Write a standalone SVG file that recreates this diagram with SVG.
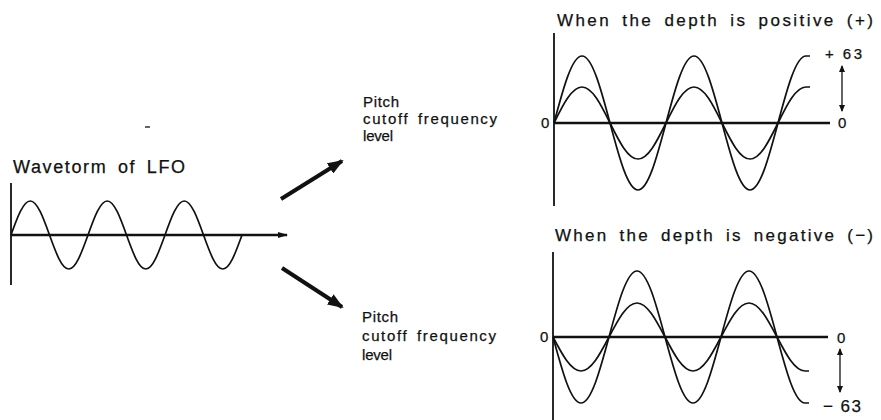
<svg xmlns="http://www.w3.org/2000/svg" width="881" height="420" viewBox="0 0 881 420">
<style>
  text { font-family: "Liberation Sans", Arial, sans-serif; fill: #111; stroke: #111; stroke-width: 0.25; }
  .ttl { font-size: 17px; word-spacing: 4px; }
  .lbl { font-size: 15px; word-spacing: 3px; }
  .num { font-size: 15px; }
  .axis { stroke: #111; stroke-width: 2.6; fill: none; }
  .vaxis { stroke: #111; stroke-width: 1.8; fill: none; }
  .wave { stroke: #111; stroke-width: 1.7; fill: none; }
  .big { stroke: #111; stroke-width: 4; fill: none; }
  .thin { stroke: #111; stroke-width: 1.3; fill: none; }
</style>
<defs>
  <marker id="bighead" markerUnits="userSpaceOnUse" viewBox="0 0 16 12" refX="14" refY="6" markerWidth="16" markerHeight="12" orient="auto">
    <path d="M0,0 L16,6 L0,12 z" fill="#111"/>
  </marker>
  <marker id="smhead" markerUnits="userSpaceOnUse" viewBox="0 0 7 6" refX="6" refY="3" markerWidth="7" markerHeight="6" orient="auto-start-reverse">
    <path d="M0,0 L7,3 L0,6 z" fill="#111"/>
  </marker>
  <marker id="axhead" markerUnits="userSpaceOnUse" viewBox="0 0 10 6" refX="9" refY="3" markerWidth="10" markerHeight="6" orient="auto">
    <path d="M0,0 L10,3 L0,6 z" fill="#111"/>
  </marker>
</defs>
<rect width="881" height="420" fill="#fff"/>

<g id="lfo">
  <text class="ttl" x="13" y="173" textLength="172" lengthAdjust="spacing" style="font-size:18px">Wavetorm of LFO</text>
  <line class="vaxis" x1="11" y1="183" x2="11" y2="285"/>
  <line class="axis" x1="11" y1="235" x2="287" y2="235" marker-end="url(#axhead)"/>
  <path class="wave" d="M11,235 c6.28,-17.42 12.28,-34 19.25,-34 s12.97,16.58 19.25,34 s12.28,34 19.25,34 s12.97,-16.58 19.25,-34 s12.28,-34 19.25,-34 s12.97,16.58 19.25,34 s12.28,34 19.25,34 s12.97,-16.58 19.25,-34 s12.28,-34 19.25,-34 s12.97,16.58 19.25,34 s12.28,34 19.25,34 s12.97,-16.58 19.25,-34"/>
  <line class="thin" x1="145" y1="127" x2="150" y2="127"/>
</g>

<g id="label-upper">
  <text class="lbl" x="363" y="107" textLength="36" lengthAdjust="spacing">Pitch</text>
  <text class="lbl" x="363" y="124" textLength="134" lengthAdjust="spacing">cutoff frequency</text>
  <text class="lbl" x="363" y="141" textLength="30" lengthAdjust="spacing">level</text>
</g>

<g id="label-lower">
  <text class="lbl" x="362" y="322" textLength="36" lengthAdjust="spacing">Pitch</text>
  <text class="lbl" x="362" y="341" textLength="134" lengthAdjust="spacing">cutoff frequency</text>
  <text class="lbl" x="362" y="360" textLength="30" lengthAdjust="spacing">level</text>
</g>

<g id="pos-graph">
  <text class="ttl" x="557" y="26" textLength="316" lengthAdjust="spacing">When the depth is positive (+)</text>
  <line class="vaxis" x1="554" y1="33" x2="554" y2="206"/>
  <line class="axis" x1="554" y1="123" x2="830" y2="123"/>
  <path class="wave" d="M554,123 c9.13,-34.32 17.87,-67 28,-67 s18.87,32.68 28,67 s17.87,67 28,67 s18.87,-32.68 28,-67 s17.87,-67 28,-67 s18.87,32.68 28,67 s17.87,67 28,67 s18.87,-32.68 28,-67 s17.87,-67 28,-67 h4"/>
  <path class="wave" d="M554,123 c9.13,-18.44 17.87,-36 28,-36 s18.87,17.56 28,36 s17.87,36 28,36 s18.87,-17.56 28,-36 s17.87,-36 28,-36 s18.87,17.56 28,36 s17.87,36 28,36 s18.87,-17.56 28,-36 s17.87,-36 28,-36 h4"/>
  <text class="num" x="541" y="128">0</text>
  <text class="num" x="838" y="128">0</text>
  <text class="num" x="825" y="59" textLength="37" lengthAdjust="spacing">+ 63</text>
  <line class="thin" x1="842" y1="66" x2="842" y2="111" marker-start="url(#smhead)" marker-end="url(#smhead)"/>
</g>

<g id="neg-graph">
  <text class="ttl" x="555" y="241" textLength="318" lengthAdjust="spacing">When the depth is negative (−)</text>
  <line class="vaxis" x1="553" y1="252" x2="553" y2="420"/>
  <line class="axis" x1="553" y1="337" x2="828" y2="337"/>
  <path class="wave" d="M553,337 c9.13,33.81 17.87,66 28,66 s18.87,-32.19 28,-66 s17.87,-66 28,-66 s18.87,32.19 28,66 s17.87,66 28,66 s18.87,-32.19 28,-66 s17.87,-66 28,-66 s18.87,32.19 28,66 s17.87,66 28,66 h4"/>
  <path class="wave" d="M553,337 c9.13,17.42 17.87,34 28,34 s18.87,-16.58 28,-34 s17.870,-34 28,-34 s18.87,16.58 28,34 s17.87,34 28,34 s18.87,-16.58 28,-34 s17.87,-34 28,-34 s18.87,16.58 28,34 s17.87,34 28,34 h4"/>
  <text class="num" x="540" y="342">0</text>
  <text class="num" x="837" y="343">0</text>
  <text class="num" x="823" y="412" textLength="38" lengthAdjust="spacing" style="font-size:17px">− 63</text>
  <line class="thin" x1="840" y1="349" x2="840" y2="392" marker-start="url(#smhead)" marker-end="url(#smhead)"/>
</g>

<g id="connectors">
  <line class="big" x1="281" y1="199" x2="342" y2="161" marker-end="url(#bighead)"/>
  <line class="big" x1="282" y1="268" x2="342" y2="307" marker-end="url(#bighead)"/>
</g>
</svg>
